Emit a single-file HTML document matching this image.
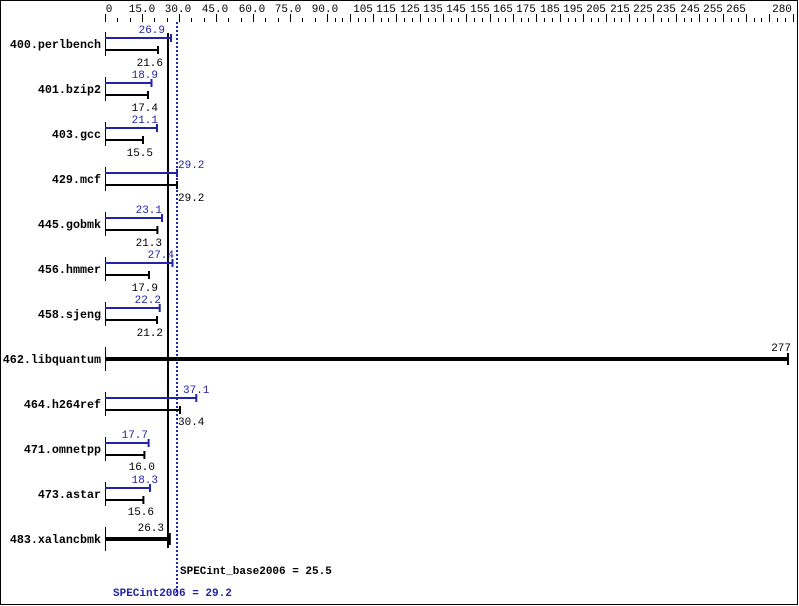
<!DOCTYPE html>
<html><head><style>
html,body{margin:0;padding:0;background:#fff}
svg{display:block}
text{font-family:"Liberation Mono",monospace;font-size:11px}
.n{font-weight:bold;text-anchor:end;font-size:11.7px}
.b{fill:#2323a8}
.e{text-anchor:end}
</style></head><body>
<svg width="799" height="606" xmlns="http://www.w3.org/2000/svg">
<rect x="0.5" y="0.5" width="797" height="604" fill="#fff" stroke="#000"/>
<g text-anchor="middle">
<text x="109" y="12">0</text><text x="142" y="12">15.0</text><text x="178" y="12">30.0</text>
<text x="215" y="12">45.0</text><text x="252" y="12">60.0</text><text x="288" y="12">75.0</text><text x="325" y="12">90.0</text>
<text x="363" y="12">105</text><text x="386" y="12">115</text><text x="410" y="12">125</text><text x="433" y="12">135</text>
<text x="456" y="12">145</text><text x="480" y="12">155</text><text x="503" y="12">165</text><text x="526" y="12">175</text>
<text x="550" y="12">185</text><text x="573" y="12">195</text><text x="596" y="12">205</text><text x="620" y="12">215</text>
<text x="643" y="12">225</text><text x="666" y="12">235</text><text x="690" y="12">245</text><text x="713" y="12">255</text>
<text x="736" y="12">265</text><text x="782" y="12">280</text>
</g>
<path stroke="#000" stroke-width="1" fill="none" d="
M105.5 14V22M142.5 14V22M179.5 14V22M216.5 14V22M253.5 14V22M290.5 14V22
M117.5 18V22M130.5 18V22M154.5 18V22M167.5 18V22M191.5 18V22M204.5 18V22M228.5 18V22M241.5 18V22M265.5 18V22M278.5 18V22M302.5 18V22M315.5 18V22
M327.5 14V22M350.5 14V22M373.5 14V22M396.5 14V22M420.5 14V22M443.5 14V22M466.5 14V22M490.5 14V22M513.5 14V22M536.5 14V22M560.5 14V22M583.5 14V22M606.5 14V22M629.5 14V22M653.5 14V22M676.5 14V22M699.5 14V22M723.5 14V22M746.5 14V22M769.5 14V22M793.5 14V22
M335.5 18V22M342.5 18V22M358.5 18V22M365.5 18V22M381.5 18V22M388.5 18V22M404.5 18V22M412.5 18V22M428.5 18V22M435.5 18V22M451.5 18V22M458.5 18V22M474.5 18V22M482.5 18V22M498.5 18V22M505.5 18V22M521.5 18V22M528.5 18V22M544.5 18V22M552.5 18V22M568.5 18V22M575.5 18V22M591.5 18V22M598.5 18V22M614.5 18V22M621.5 18V22M637.5 18V22M645.5 18V22M661.5 18V22M668.5 18V22M684.5 18V22M691.5 18V22M707.5 18V22M715.5 18V22M731.5 18V22M738.5 18V22M754.5 18V22M761.5 18V22M777.5 18V22M785.5 18V22"/>
<line x1="177" y1="22" x2="177" y2="598" stroke="#2323a8" stroke-width="2" stroke-dasharray="2,2"/>
<line x1="168" y1="33" x2="168" y2="548" stroke="#000" stroke-width="2"/>

<path stroke="#000" stroke-width="1" d="M105.5 32V56M105.5 77V101M105.5 122V146M105.5 167V191M105.5 212V236M105.5 257V281M105.5 302V326M105.5 347V371M105.5 392V416M105.5 437V461M105.5 482V506M105.5 527V551"/>

<text class="n" x="101" y="48">400.perlbench</text>
<text class="n" x="101" y="93">401.bzip2</text>
<text class="n" x="101" y="138">403.gcc</text>
<text class="n" x="101" y="183">429.mcf</text>
<text class="n" x="101" y="228">445.gobmk</text>
<text class="n" x="101" y="273">456.hmmer</text>
<text class="n" x="101" y="318">458.sjeng</text>
<text class="n" x="101" y="363">462.libquantum</text>
<text class="n" x="101" y="408">464.h264ref</text>
<text class="n" x="101" y="453">471.omnetpp</text>
<text class="n" x="101" y="498">473.astar</text>
<text class="n" x="101" y="543">483.xalancbmk</text>

<path stroke="#2323a8" stroke-width="2" fill="none" d="
M105 38H171M171 34V42
M105 83H151.5M151.5 79V87
M105 128H157M157 124V132
M105 173H177M177 169V177
M105 218H162M162 214V222
M105 263H172.5M172.5 259V267
M105 308H159.7M159.7 304V312
M105 398H196.3M196.3 394V402
M105 443H148.6M148.6 439V447
M105 488H150M150 484V492"/>
<path stroke="#000" stroke-width="2" fill="none" d="
M105 50H158M158 46V54
M105 95H148M148 91V99
M105 140H143M143 136V144
M105 185H177M177 181V189
M105 230H157.4M157.4 226V234
M105 275H149M149 271V279
M105 320H157M157 316V324
M105 410H180M180 406V414
M105 455H144.4M144.4 451V459
M105 500H143.4M143.4 496V504
M788 353V365M169.8 533V545"/>
<path stroke="#000" stroke-width="4" d="M105 359H788M105 539H169"/>

<g class="b">
<text class="e" x="165" y="33">26.9</text>
<text class="e" x="158" y="78">18.9</text>
<text class="e" x="158" y="123">21.1</text>
<text x="178" y="168">29.2</text>
<text class="e" x="162" y="213">23.1</text>
<text class="e" x="174" y="258">27.4</text>
<text class="e" x="161" y="303">22.2</text>
<text x="183" y="393">37.1</text>
<text class="e" x="148" y="438">17.7</text>
<text class="e" x="158" y="483">18.3</text>
</g>
<text class="e" x="163" y="66">21.6</text>
<text class="e" x="158" y="111">17.4</text>
<text class="e" x="153" y="156">15.5</text>
<text x="178" y="201">29.2</text>
<text class="e" x="162" y="246">21.3</text>
<text class="e" x="158" y="291">17.9</text>
<text class="e" x="163" y="336">21.2</text>
<text class="e" x="791" y="351">277</text>
<text x="178" y="425">30.4</text>
<text class="e" x="155" y="470">16.0</text>
<text class="e" x="154" y="515">15.6</text>
<text class="e" x="164" y="531">26.3</text>

<text x="180" y="574" font-weight="bold" font-size="11.7">SPECint_base2006 = 25.5</text>
<text x="113" y="596" font-weight="bold" font-size="11.7" class="b">SPECint2006 = 29.2</text>
</svg>
</body></html>
